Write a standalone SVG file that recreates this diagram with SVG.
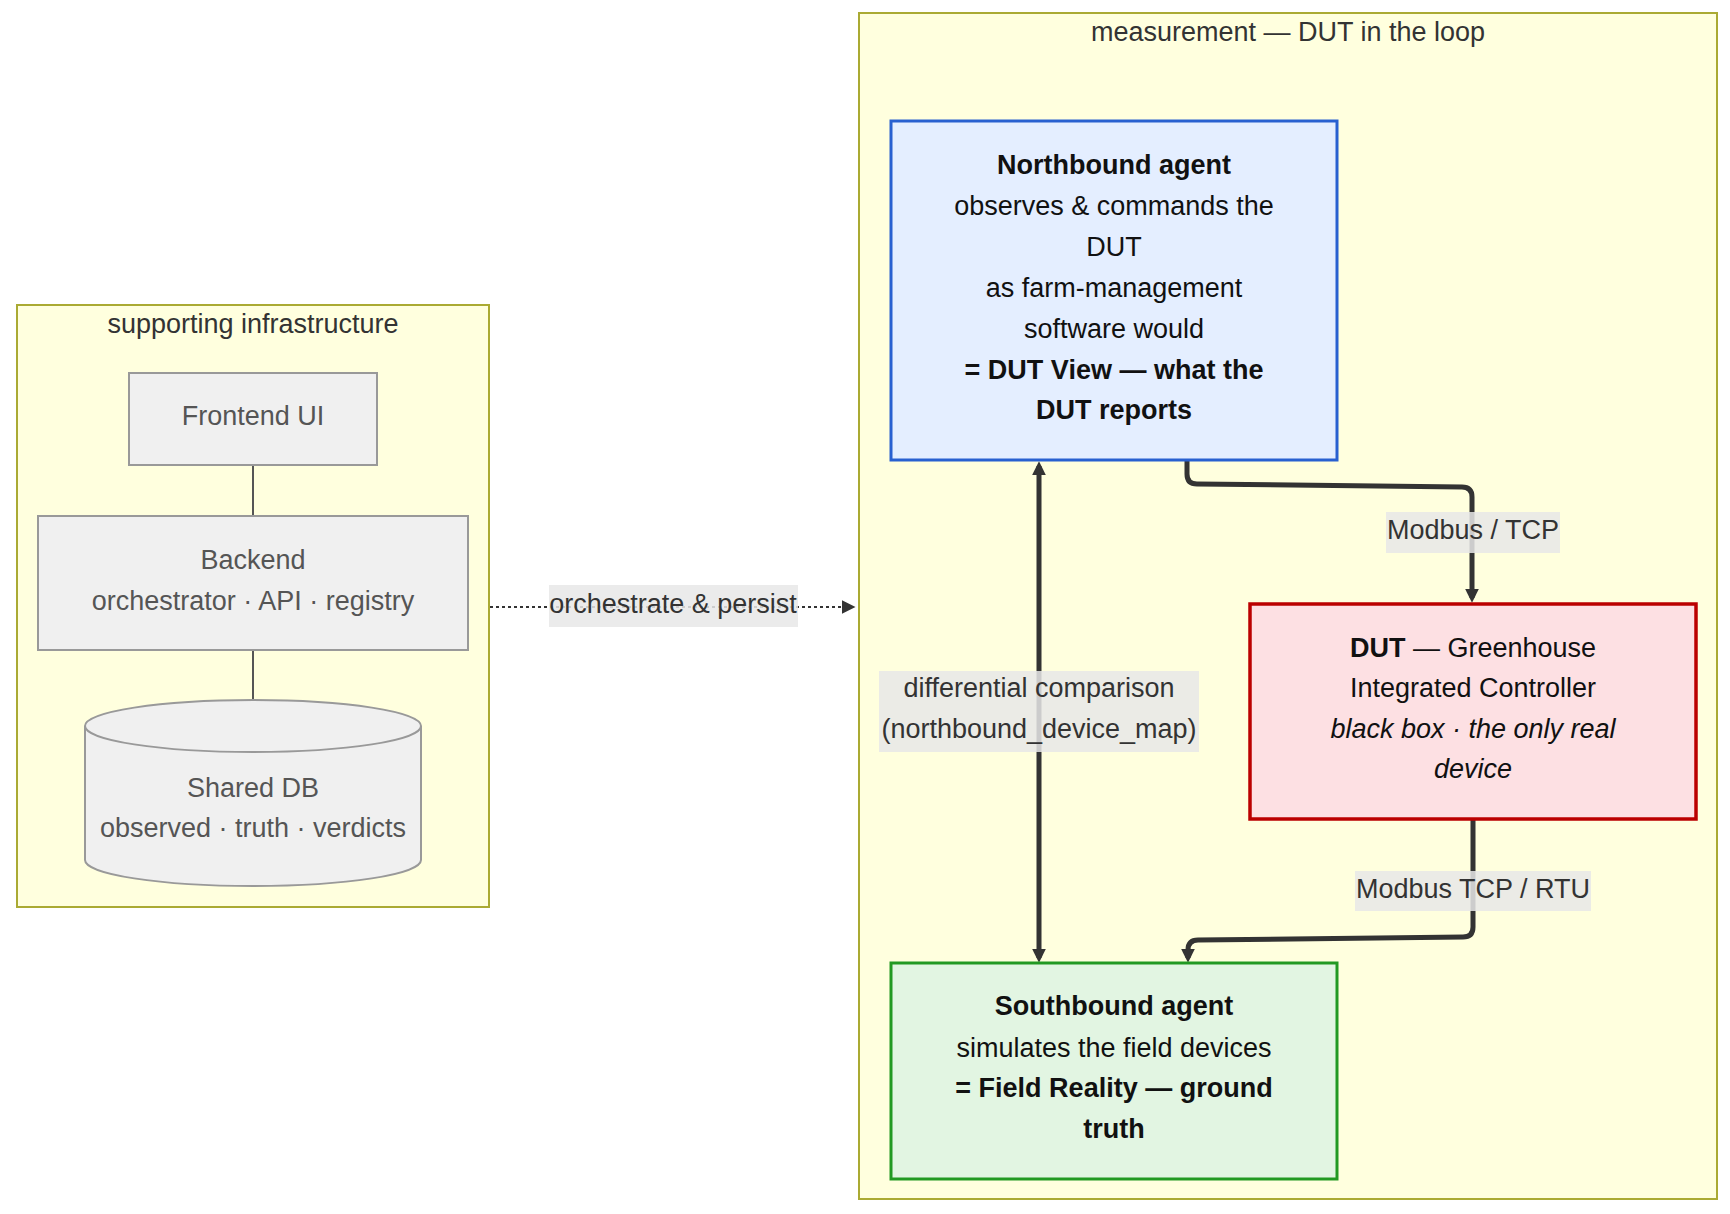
<svg xmlns="http://www.w3.org/2000/svg" width="1730" height="1214" viewBox="0 0 1730 1214">
<defs>
<style>
text{font-family:"Liberation Sans",Arial,sans-serif;font-size:27px;text-anchor:middle}
.cluster{fill:#ffffde;stroke:#aaaa33;stroke-width:2}
.ctitle{fill:#333}
.infra{fill:#f0f0f0;stroke:#999;stroke-width:2}
.itext{fill:#555}
.ntext{fill:#111}
.b{font-weight:bold}
.i{font-style:italic}
.edge{fill:none;stroke:#333;stroke-width:5;stroke-linejoin:round}
.dotted{fill:none;stroke:#333;stroke-width:2.2;stroke-dasharray:3 3}
.lbg{fill:#e8e8e8;fill-opacity:0.85}
.ltext{fill:#333}
</style>
<marker id="ah" viewBox="0 0 12 12" markerWidth="14" markerHeight="14" refX="8" refY="6" orient="auto-start-reverse" markerUnits="userSpaceOnUse">
<path d="M0,0 L12,6 L0,12 z" fill="#333"/>
</marker>
<marker id="ahs" viewBox="0 0 12 12" markerWidth="14" markerHeight="14" refX="9" refY="6" orient="auto" markerUnits="userSpaceOnUse">
<path d="M0,0 L12,6 L0,12 z" fill="#333"/>
</marker>
</defs>
<rect width="1730" height="1214" fill="#ffffff"/>

<g id="cluster-infra">
<rect class="cluster" x="17" y="305" width="472" height="602"/>
<text class="ctitle" x="253" y="333">supporting infrastructure</text>
</g>
<g id="cluster-measurement">
<rect class="cluster" x="859" y="13" width="858" height="1186"/>
<text class="ctitle" x="1288" y="41">measurement — DUT in the loop</text>
</g>

<g id="connectors">
<line x1="253" y1="465" x2="253" y2="516" stroke="#555" stroke-width="2"/>
<line x1="253" y1="650" x2="253" y2="700" stroke="#555" stroke-width="2"/>
<path class="dotted" d="M490,607 L852,607" marker-end="url(#ahs)"/>
<path class="edge" d="M1039,466 L1039,958" marker-start="url(#ah)" marker-end="url(#ah)"/>
<path class="edge" d="M1187,461 L1187,474 Q1187,484 1197,484 L1462,487 Q1472,487 1472,497 L1472,598" marker-end="url(#ah)"/>
<path class="edge" d="M1473,819 L1473,927 Q1473,937 1463,937 L1198,940 Q1188,940 1188,950 L1188,958" marker-end="url(#ah)"/>
</g>

<g id="edge-labels">
<rect class="lbg" x="549" y="585" width="249" height="42"/>
<text class="ltext" x="673" y="613">orchestrate &amp; persist</text>
<rect class="lbg" x="879" y="671" width="320" height="81"/>
<text class="ltext" x="1039" y="697">differential comparison</text>
<text class="ltext" x="1039" y="738">(northbound_device_map)</text>
<rect class="lbg" x="1386" y="512" width="174" height="41"/>
<text class="ltext" x="1473" y="539">Modbus / TCP</text>
<rect class="lbg" x="1355" y="871" width="236" height="40"/>
<text class="ltext" x="1473" y="898">Modbus TCP / RTU</text>
</g>

<g id="node-frontend">
<rect class="infra" x="129" y="373" width="248" height="92"/>
<text class="itext" x="253" y="425">Frontend UI</text>
</g>
<g id="node-backend">
<rect class="infra" x="38" y="516" width="430" height="134"/>
<text class="itext" x="253" y="569">Backend</text>
<text class="itext" x="253" y="610">orchestrator · API · registry</text>
</g>
<g id="node-db">
<path class="infra" d="M85,726 a168,26 0 0,0 336,0 a168,26 0 0,0 -336,0 l0,134 a168,26 0 0,0 336,0 l0,-134"/>
<text class="itext" x="253" y="797">Shared DB</text>
<text class="itext" x="253" y="837">observed · truth · verdicts</text>
</g>

<g id="node-northbound">
<rect x="891" y="121" width="446" height="339" fill="#e4eeff" stroke="#2860d0" stroke-width="3"/>
<text class="ntext b" x="1114" y="174">Northbound agent</text>
<text class="ntext" x="1114" y="215">observes &amp; commands the</text>
<text class="ntext" x="1114" y="256">DUT</text>
<text class="ntext" x="1114" y="297">as farm-management</text>
<text class="ntext" x="1114" y="338">software would</text>
<text class="ntext b" x="1114" y="379">= DUT View — what the</text>
<text class="ntext b" x="1114" y="419">DUT reports</text>
</g>
<g id="node-dut">
<rect x="1250" y="604" width="446" height="215" fill="#fde0e3" stroke="#bb0000" stroke-width="3.5"/>
<text class="ntext" x="1473" y="657"><tspan class="b">DUT</tspan> — Greenhouse</text>
<text class="ntext" x="1473" y="697">Integrated Controller</text>
<text class="ntext i" x="1473" y="738">black box · the only real</text>
<text class="ntext i" x="1473" y="778">device</text>
</g>
<g id="node-southbound">
<rect x="891" y="963" width="446" height="216" fill="#e2f5e2" stroke="#229922" stroke-width="3"/>
<text class="ntext b" x="1114" y="1015">Southbound agent</text>
<text class="ntext" x="1114" y="1057">simulates the field devices</text>
<text class="ntext b" x="1114" y="1097">= Field Reality — ground</text>
<text class="ntext b" x="1114" y="1138">truth</text>
</g>
</svg>
